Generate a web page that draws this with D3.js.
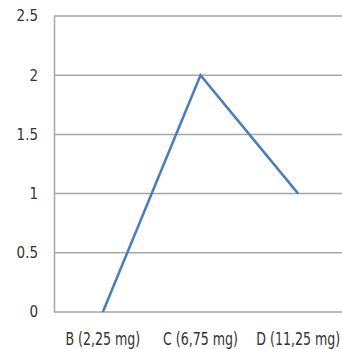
<!DOCTYPE html>
<html>
<head>
<meta charset="utf-8">
<script src="https://cdn.jsdelivr.net/npm/d3@7"></script>
<style>
  body { margin: 0; background: #fff; }
  text { font-family: "DejaVu Sans Condensed", "Liberation Sans Narrow", sans-serif; fill: #333; }
</style>
</head>
<body>
<div id="chart"></div>
<script>
const categories = ["B (2,25 mg)", "C (6,75 mg)", "D (11,25 mg)"];
const values = [0, 2, 1];
const yTicks = [0, 0.5, 1, 1.5, 2, 2.5];

const W = 342, H = 349;
const margin = { top: 16, right: -5, bottom: 37, left: 54 };
const width = W - margin.left - margin.right;
const height = H - margin.top - margin.bottom;

const svg = d3.select("#chart").append("svg")
  .attr("width", W)
  .attr("height", H)
  .append("g")
  .attr("transform", `translate(${margin.left},${margin.top})`);

const x = d3.scaleBand().domain(categories).range([0, width]);
const y = d3.scaleLinear().domain([0, 2.5]).range([height, 0]);

// horizontal gridlines
svg.append("g")
  .selectAll("line")
  .data(yTicks)
  .join("line")
  .attr("x1", 0)
  .attr("x2", width)
  .attr("y1", d => y(d))
  .attr("y2", d => y(d))
  .attr("stroke", "#a6a6a6")
  .attr("stroke-width", 1.5);

// left axis
svg.append("g")
  .call(d3.axisLeft(y).tickValues(yTicks).tickSize(0).tickPadding(16).tickFormat(d3.format("")))
  .call(g => g.select(".domain").attr("stroke", "#a6a6a6").attr("stroke-width", 1.5))
  .call(g => g.selectAll("text").attr("font-size", 15).attr("fill", "#333"));

// bottom labels (the original text looks stretched vertically)
svg.append("g")
  .attr("transform", `translate(0,${height})`)
  .call(d3.axisBottom(x).tickSize(0).tickPadding(16.5))
  .call(g => g.select(".domain").remove())
  .call(g => g.selectAll("text")
    .attr("font-size", 14)
    .attr("fill", "#222")
    .attr("transform", "scale(1,1.25)"));

const line = d3.line()
  .x((d, i) => x(categories[i]) + x.bandwidth() / 2)
  .y(d => y(d));

svg.append("path")
  .datum(values)
  .attr("d", line)
  .attr("fill", "none")
  .attr("stroke", "#4a7ebb")
  .attr("stroke-width", 2.5);
</script>
</body>
</html>
